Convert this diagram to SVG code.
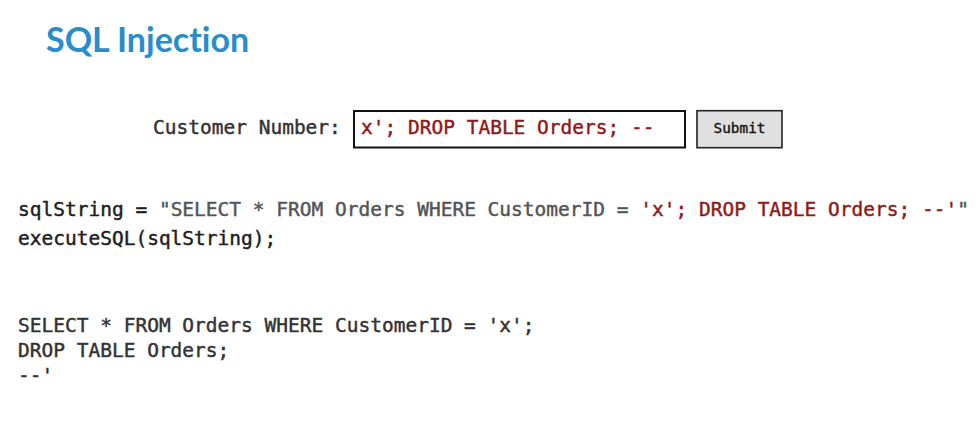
<svg xmlns="http://www.w3.org/2000/svg" width="979" height="432" viewBox="0 0 979 432">
<style>
.mono{font-family:"DejaVu Sans Mono","Liberation Mono",monospace;font-size:19.5px;font-weight:normal;stroke-width:0.45px}
.dark{fill:#1e1e1e;stroke:#1e1e1e}
.gray{fill:#555555;stroke:#555555}
.red{fill:#8e1b1b;stroke:#8e1b1b}
.out{fill:#333333;stroke:#333333}
</style>
<rect width="979" height="432" fill="#ffffff"/>
<g id="title">
<text x="46" y="52" font-family="Lato,'Open Sans',sans-serif" font-size="34" font-weight="bold" fill="#2a8dcb" style="font-variant-ligatures:none">SQL Injection</text>
</g>
<g id="form">
<text class="mono out" x="153" y="134">Customer Number:</text>
<rect x="354" y="111" width="331" height="36.5" fill="#ffffff" stroke="#111111" stroke-width="2"/>
<text class="mono red" x="361" y="134">x'; DROP TABLE Orders; --</text>
<rect x="697" y="110.7" width="85" height="37" fill="#e0e0e0" stroke="#222222" stroke-width="1.6"/>
<text x="739.5" y="133" text-anchor="middle" font-family="'DejaVu Sans Mono',monospace" font-size="14.4" fill="#111111" stroke="#111111" stroke-width="0.35">Submit</text>
</g>
<g id="code">
<text class="mono" x="18" y="216" xml:space="preserve"><tspan class="dark">sqlString = </tspan><tspan class="gray">"SELECT * FROM Orders WHERE CustomerID = </tspan><tspan class="red">'x'; DROP TABLE Orders; --'</tspan><tspan class="gray">"</tspan></text>
<text class="mono dark" x="18" y="245">executeSQL(sqlString);</text>
</g>
<g id="result">
<text class="mono out" x="18" y="332">SELECT * FROM Orders WHERE CustomerID = 'x';</text>
<text class="mono out" x="18" y="357">DROP TABLE Orders;</text>
<text class="mono out" x="18" y="382">--'</text>
</g>
</svg>
